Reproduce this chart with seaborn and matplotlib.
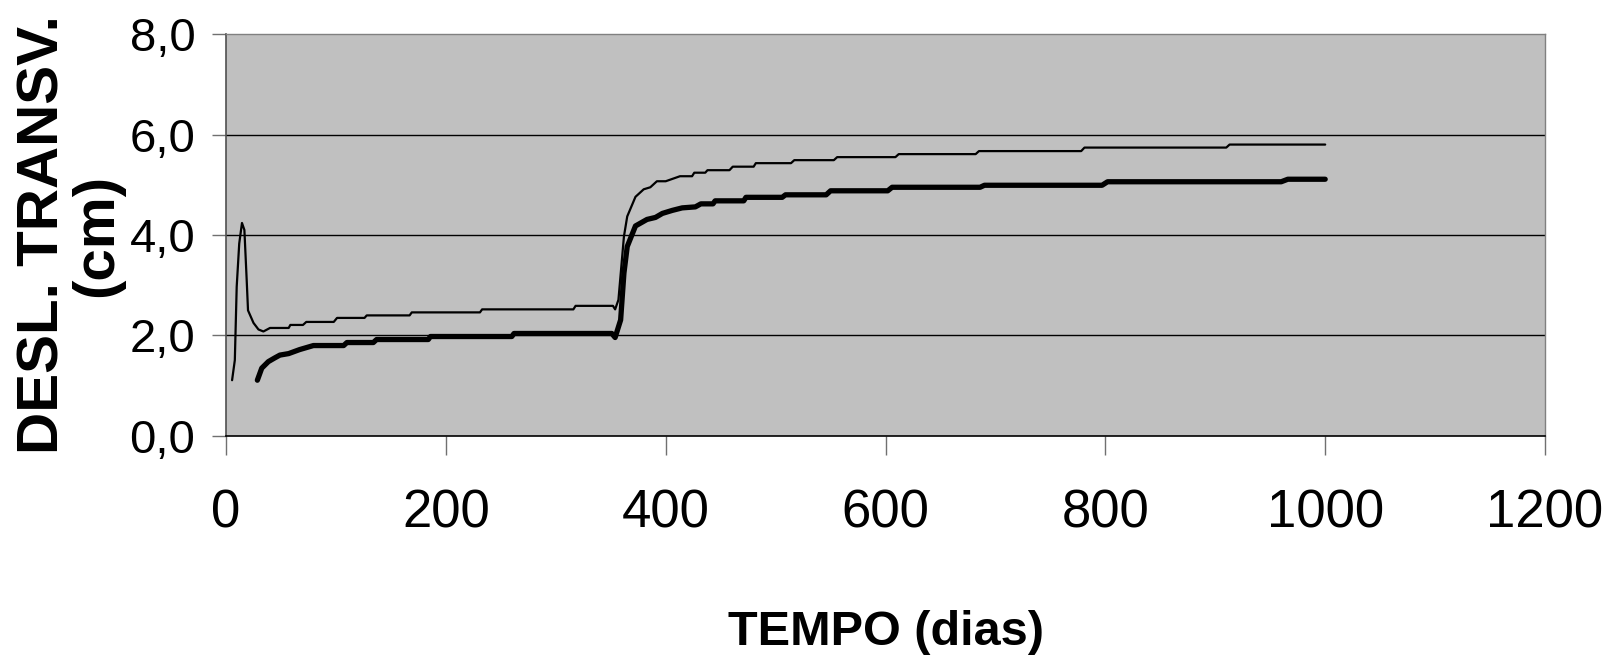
import numpy as np
import pandas as pd
import matplotlib
matplotlib.use("Agg")
import matplotlib.pyplot as plt
from matplotlib.ticker import FuncFormatter
import seaborn as sns

# upper (thin) curve - days / cm
dias_fino = [5.5, 8, 9.7, 12, 14.5, 16.7, 18.8, 20, 25, 29.5, 34, 40, 57, 58.5, 70, 73, 98, 101,
             126, 128, 167, 169, 231, 233, 316, 318, 352, 354, 357, 362, 365, 372.5, 380, 386,
             392, 400, 413, 424, 426, 436, 438, 458, 461, 480, 482, 514, 517, 553, 556, 609,
             612, 682, 685, 778, 781, 910, 913, 1000]
desl_fino = [1.11, 1.51, 2.97, 3.83, 4.24, 4.10, 3.10, 2.50, 2.25, 2.12, 2.08, 2.15, 2.15, 2.21,
             2.21, 2.27, 2.27, 2.35, 2.35, 2.40, 2.40, 2.46, 2.46, 2.52, 2.52, 2.59, 2.59, 2.52,
             2.71, 3.97, 4.37, 4.76, 4.91, 4.95, 5.07, 5.07, 5.17, 5.17, 5.24, 5.24, 5.29, 5.29,
             5.36, 5.36, 5.43, 5.43, 5.49, 5.49, 5.55, 5.55, 5.61, 5.61, 5.67, 5.67, 5.74, 5.74,
             5.80, 5.80]

# lower (thick) curve
dias_grosso = [28.5, 32.5, 38.5, 44, 49, 57, 67, 79.5, 107, 110, 134, 137, 184, 186, 260, 262,
               351, 354, 359, 362, 365, 372.5, 383, 390.7, 397, 406, 415, 427, 432, 443, 445,
               471, 473, 506, 509, 546, 550, 602, 606, 686, 690, 797, 802, 960, 966, 1000]
desl_grosso = [1.11, 1.35, 1.48, 1.55, 1.61, 1.64, 1.72, 1.80, 1.80, 1.86, 1.86, 1.92, 1.92, 1.98,
               1.98, 2.04, 2.04, 1.96, 2.31, 3.24, 3.77, 4.18, 4.31, 4.35, 4.43, 4.49, 4.54, 4.56,
               4.62, 4.62, 4.68, 4.68, 4.75, 4.75, 4.80, 4.80, 4.88, 4.88, 4.95, 4.95, 4.99, 4.99,
               5.06, 5.06, 5.11, 5.11]

x_ticks = [0, 200, 400, 600, 800, 1000, 1200]
y_ticks = [0, 2, 4, 6, 8]

sns.set_style("white")
plt.rcParams['font.family'] = ['Liberation Sans', 'DejaVu Sans']
plt.rcParams['text.color'] = 'black'
plt.rcParams['axes.labelcolor'] = 'black'

fig = plt.figure(figsize=(16.18, 6.57), dpi=100)
ax = fig.add_axes([0.1397, 0.3364, 0.9549 - 0.1397, 0.9482 - 0.3364])
ax.set_facecolor('#c0c0c0')

for v in y_ticks[1:-1]:
    ax.axhline(v, color='black', linewidth=1.0, zorder=1)

fino = pd.DataFrame({'dias': dias_fino, 'desl': desl_fino})
grosso = pd.DataFrame({'dias': dias_grosso, 'desl': desl_grosso})
sns.lineplot(data=fino, x='dias', y='desl', ax=ax, color='black', linewidth=1.6,
             estimator=None, sort=False, zorder=3)
sns.lineplot(data=grosso, x='dias', y='desl', ax=ax, color='black', linewidth=3.8,
             estimator=None, sort=False, zorder=3)

ax.set_xlim(0, 1200)
ax.set_ylim(0, 8)
ax.set_xticks(x_ticks)
ax.set_yticks(y_ticks)
ax.yaxis.set_major_formatter(FuncFormatter(lambda v, p: f"{v:.1f}".replace('.', ',')))

ax.tick_params(axis='x', direction='out', length=14, width=1, color='#707070',
               labelsize=38, pad=24, bottom=True, labelcolor='black')
ax.tick_params(axis='y', direction='out', length=10, width=1, color='#707070',
               labelsize=34, pad=12, left=True, labelcolor='black')

for s in ['top', 'right']:
    ax.spines[s].set_color('#808080')
    ax.spines[s].set_linewidth(1.0)
ax.spines['left'].set_color('#505050')
ax.spines['bottom'].set_color('black')
ax.spines['left'].set_linewidth(1.2)
ax.spines['bottom'].set_linewidth(1.2)

ax.set_xlabel('TEMPO (dias)', fontsize=35, fontweight='bold', va='center')
ax.xaxis.set_label_coords(0.5, -0.49)
ax.set_ylabel('DESL. TRANSV.\n(cm)', fontsize=42, fontweight='bold', va='center',
              linespacing=1.0)
ax.yaxis.set_label_coords(-0.118, 0.5)

plt.savefig('out.png', dpi=100)
